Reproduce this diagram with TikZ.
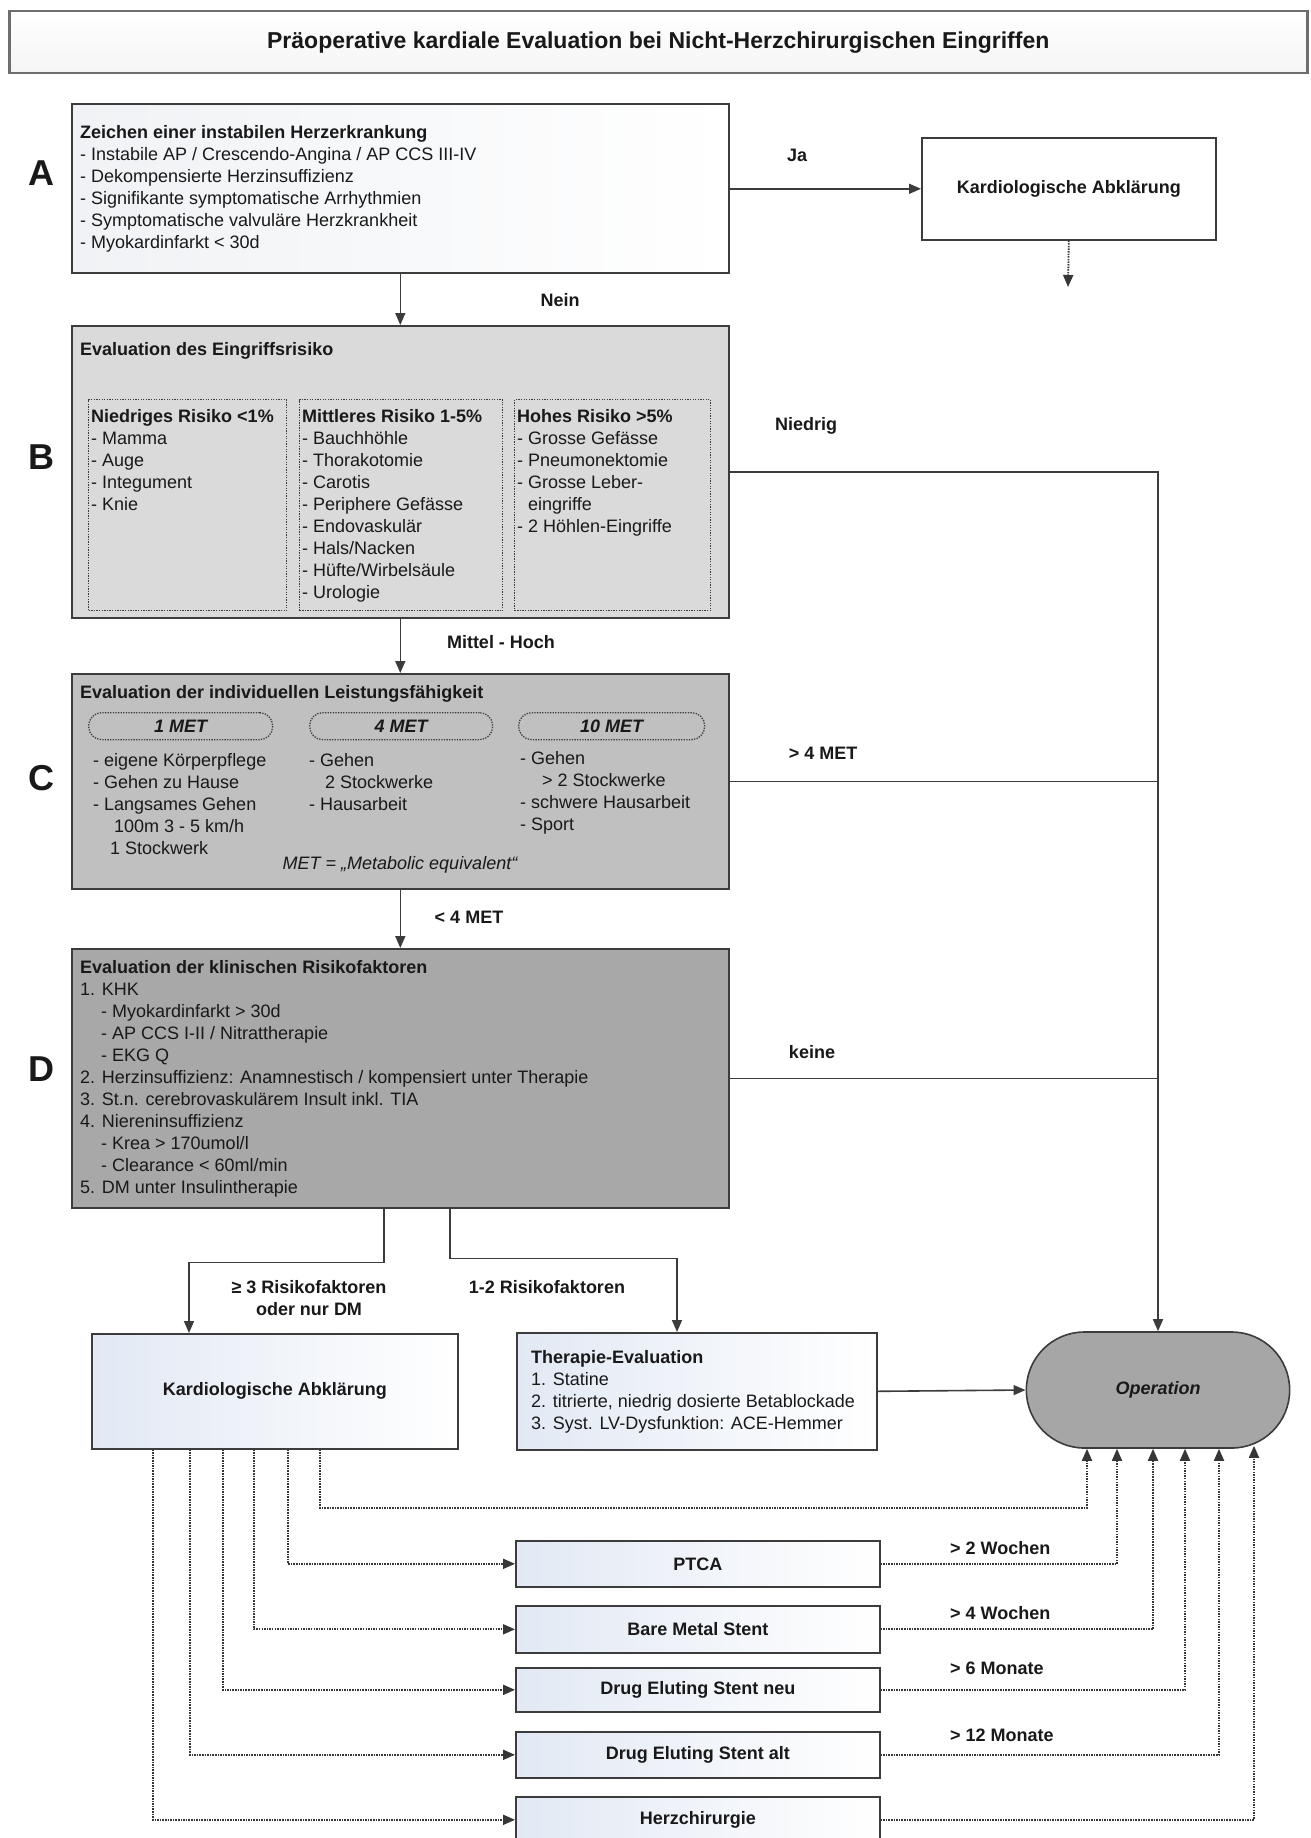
\documentclass[tikz,border=0pt]{standalone}
\usepackage{fontspec}
\setmainfont{Liberation Sans}
\usetikzlibrary{arrows.meta,shapes.misc}
\definecolor{edge}{RGB}{60,60,60}
\definecolor{ink}{RGB}{25,25,25}
\definecolor{fillB}{RGB}{218,218,218}
\definecolor{fillC}{RGB}{192,192,192}
\definecolor{fillD}{RGB}{168,168,168}
\definecolor{fillOp}{RGB}{166,166,166}
\definecolor{tintblue}{RGB}{226,233,244}
\definecolor{tintgray}{RGB}{240,242,245}
\definecolor{titleedge}{RGB}{110,110,110}
\tikzset{
  box/.style={draw=edge, line width=1.6pt, inner sep=0pt, anchor=north west},
  bluebox/.style={box, left color=tintblue, right color=white},
  subbox/.style={draw=edge, line width=1.3pt, dash pattern=on 1.3pt off 1.3pt, inner sep=0pt, anchor=north west},
  metbox/.style={subbox, rounded corners=13pt, font=\bfseries\itshape\fontsize{18}{22}\selectfont, text=ink},
  txt/.style={font=\fontsize{18}{22}\selectfont, text=ink, align=left, inner sep=0pt, anchor=north west, yshift=15.4pt},
  lbl/.style={font=\bfseries\fontsize{18}{22}\selectfont, text=ink, inner sep=0pt},
  boxlbl/.style={font=\bfseries\fontsize{18}{22}\selectfont, text=ink},
  conn/.style={draw=edge, line width=1.6pt},
  arr/.style={conn, -{Triangle[length=12pt,width=10pt]}},
  dconn/.style={draw=edge!90!black, line width=1.8pt, dash pattern=on 1.5pt off 1.1pt},
  darr/.style={dconn, -{Triangle[length=12pt,width=10pt]}},
  letter/.style={font=\bfseries\fontsize{36}{40}\selectfont, text=ink, inner sep=0pt},
}
\begin{document}
\begin{tikzpicture}[x=1pt,y=-1pt]
\path[use as bounding box, fill=white] (0,0) rectangle (1310,1838);

% title
\node[draw=titleedge, line width=2.5pt, top color=white, bottom color=gray!8,
  minimum width=1298pt, minimum height=62pt, inner sep=0pt, anchor=north west,
  font=\bfseries\fontsize{23}{26}\selectfont, text=ink] (title) at (8,10)
  {Präoperative kardiale Evaluation bei Nicht-Herzchirurgischen Eingriffen};

% letters
\node[letter] (LA) at (41,173) {A};
\node[letter] (LB) at (41,457) {B};
\node[letter] (LC) at (41,778) {C};
\node[letter] (LD) at (41,1069) {D};

% box A
\node[box, left color=tintgray, right color=white, minimum width=657pt, minimum height=169pt] (A) at (71,103) {};
\node[txt] (Atxt) at (80,138) {\strut\textbf{Zeichen einer instabilen Herzerkrankung}\\
- Instabile AP / Crescendo-Angina / AP CCS III-IV\\
- Dekompensierte Herzinsuffizienz\\
- Signifikante symptomatische Arrhythmien\\
- Symptomatische valvuläre Herzkrankheit\\
- Myokardinfarkt < 30d};

\node[box, fill=white, minimum width=294pt, minimum height=102pt, boxlbl] (K1) at (921,137) {Kardiologische Abklärung};
\coordinate (k1end) at (1068,287);

% box B
\node[box, fill=fillB, minimum width=657pt, minimum height=292pt] (B) at (71,325) {};
\node[txt] (Btxt) at (80,355) {\strut\textbf{Evaluation des Eingriffsrisiko}};
\node[subbox, minimum width=198pt, minimum height=211pt] (B1) at (88,399) {};
\node[subbox, minimum width=203pt, minimum height=211pt] (B2) at (299,399) {};
\node[subbox, minimum width=196pt, minimum height=211pt] (B3) at (514,399) {};
\node[txt] (B1txt) at (91,422) {\strut\textbf{Niedriges Risiko <1\%}\\- Mamma\\- Auge\\- Integument\\- Knie};
\node[txt] (B2txt) at (302,422) {\strut\textbf{Mittleres Risiko 1-5\%}\\- Bauchhöhle\\- Thorakotomie\\- Carotis\\- Periphere Gefässe\\- Endovaskulär\\- Hals/Nacken\\- Hüfte/Wirbelsäule\\- Urologie};
\node[txt] (B3txt) at (517,422) {\strut\textbf{Hohes Risiko >5\%}\\- Grosse Gefässe\\- Pneumonektomie\\- Grosse Leber-\\\hphantom{- }eingriffe\\- 2 Höhlen-Eingriffe};

% box C
\node[box, fill=fillC, minimum width=657pt, minimum height=215pt] (C) at (71,673) {};
\node[txt] (Ctxt) at (80,698) {\strut\textbf{Evaluation der individuellen Leistungsfähigkeit}};
\node[metbox, minimum width=184pt, minimum height=27pt] (M1) at (88,712) {1 MET};
\node[metbox, minimum width=183pt, minimum height=27pt] (M2) at (309,712) {4 MET};
\node[metbox, minimum width=186pt, minimum height=27pt] (M3) at (518,712) {10 MET};
\node[txt] (C1txt) at (93,766) {\strut- eigene Körperpflege\\- Gehen zu Hause\\- Langsames Gehen\\\hspace*{21pt}100m 3 - 5 km/h\\\hspace*{17pt}1 Stockwerk};
\node[txt] (C2txt) at (309,766) {\strut- Gehen\\\hspace*{16pt}2 Stockwerke\\- Hausarbeit};
\node[txt] (C3txt) at (520,764) {\strut- Gehen\\\hspace*{22pt}> 2 Stockwerke\\- schwere Hausarbeit\\- Sport};
\node[font=\itshape\fontsize{18}{22}\selectfont, text=ink, anchor=base, inner sep=0pt] (metdef) at (400,869) {MET = „Metabolic equivalent“};

% box D
\node[box, fill=fillD, minimum width=657pt, minimum height=259pt] (D) at (71,948) {};
\node[txt] (Dtxt) at (80,973) {\strut\textbf{Evaluation der klinischen Risikofaktoren}\\
1. KHK\\
\hspace*{21pt}- Myokardinfarkt > 30d\\
\hspace*{21pt}- AP CCS I-II / Nitrattherapie\\
\hspace*{21pt}- EKG Q\\
2. Herzinsuffizienz: Anamnestisch / kompensiert unter Therapie\\
3. St.n. cerebrovaskulärem Insult inkl. TIA\\
4. Niereninsuffizienz\\
\hspace*{21pt}- Krea > 170umol/l\\
\hspace*{21pt}- Clearance < 60ml/min\\
5. DM unter Insulintherapie};

% lower boxes
\node[bluebox, minimum width=366pt, minimum height=115pt, boxlbl] (K2) at (91,1333) {Kardiologische Abklärung};
\node[bluebox, minimum width=360pt, minimum height=117pt] (T) at (516,1332) {};
\node[txt] (Ttxt) at (531,1363) {\strut\textbf{Therapie-Evaluation}\\1. Statine\\2. titrierte, niedrig dosierte Betablockade\\3. Syst. LV-Dysfunktion: ACE-Hemmer};
\node[rounded rectangle, draw=edge, line width=1.6pt, fill=fillOp, minimum width=270pt, minimum height=116pt,
  font=\bfseries\itshape\fontsize{18}{22}\selectfont, text=ink] (Op) at (1158,1390) {Operation};

\node[bluebox, minimum width=364pt, minimum height=46pt, boxlbl] (P1) at (515,1540) {PTCA};
\node[bluebox, minimum width=364pt, minimum height=47pt, boxlbl] (P2) at (515,1605) {Bare Metal Stent};
\node[bluebox, minimum width=364pt, minimum height=44pt, boxlbl] (P3) at (515,1667) {Drug Eluting Stent neu};
\node[bluebox, minimum width=364pt, minimum height=46pt, boxlbl] (P4) at (515,1731) {Drug Eluting Stent alt};
\node[bluebox, minimum width=364pt, minimum height=46pt, boxlbl] (P5) at (515,1796) {Herzchirurgie};

% labels
\node[lbl] (lJa) at (797,155) {Ja};
\node[lbl] (lNein) at (560,300) {Nein};
\node[lbl] (lNiedrig) at (806,426) {Niedrig};
\node[lbl] (lMH) at (501,642) {Mittel - Hoch};
\node[lbl] (lg4) at (823,753) {> 4 MET};
\node[lbl] (ll4) at (469,917) {< 4 MET};
\node[lbl] (lkeine) at (812,1052) {keine};
\node[lbl, align=center] (l3) at (309,1298) {≥ 3 Risikofaktoren\\oder nur DM};
\node[lbl] (l12) at (547,1287) {1-2 Risikofaktoren};
\node[lbl, anchor=west] (w1) at (950,1548) {> 2 Wochen};
\node[lbl, anchor=west] (w2) at (950,1613) {> 4 Wochen};
\node[lbl, anchor=west] (w3) at (950,1668) {> 6 Monate};
\node[lbl, anchor=west] (w4) at (950,1735) {> 12 Monate};

% helper x positions
\coordinate (dL) at (384,0);
\coordinate (dR) at (450,0);
\coordinate (kIn) at (189,0);
\coordinate (tIn) at (677,0);
\coordinate (s1) at (153,0);
\coordinate (s2) at (190,0);
\coordinate (s3) at (223,0);
\coordinate (s4) at (254,0);
\coordinate (s5) at (288,0);
\coordinate (s6) at (320,0);
\coordinate (r1) at (1087,0);
\coordinate (r2) at (1117,0);
\coordinate (r3) at (1153,0);
\coordinate (r4) at (1185,0);
\coordinate (r5) at (1219,0);
\coordinate (r6) at (1254,0);

% connectors
\draw[arr] (K1.west -| A.east) -- (K1.west);
\draw[darr] (K1.south) -- (k1end);
\draw[arr] (A.south) -- (B.north);
\draw[arr] (B.south) -- (C.north);
\draw[arr] (C.south) -- (D.north);
\draw[arr] (B.east) -- (B.east -| Op.north) -- (Op.north);
\draw[conn] (C.east) -- (C.east -| Op.north);
\draw[conn] (D.east) -- (D.east -| Op.north);
\draw[arr] (D.south -| dL) -- ++(0,54) -| (K2.north -| kIn);
\draw[arr] (D.south -| dR) -- ++(0,50) -| (T.north -| tIn);
\draw[arr] (T.east) -- (Op.west);

\draw[darr] (K2.south -| s6) -- ++(0,58) -| (Op.south -| r1);
\draw[darr] (K2.south -| s5) |- (P1.west);
\draw[darr] (P1.east) -| (Op.south -| r2);
\draw[darr] (K2.south -| s4) |- (P2.west);
\draw[darr] (P2.east) -| (Op.south -| r3);
\draw[darr] (K2.south -| s3) |- (P3.west);
\draw[darr] (P3.east) -| (Op.south -| r4);
\draw[darr] (K2.south -| s2) |- (P4.west);
\draw[darr] (P4.east) -| (Op.south -| r5);
\draw[darr] (K2.south -| s1) |- (P5.west);
\draw[darr] (P5.east) -| ([yshift=3pt]Op.south -| r6);
\end{tikzpicture}
\end{document}
